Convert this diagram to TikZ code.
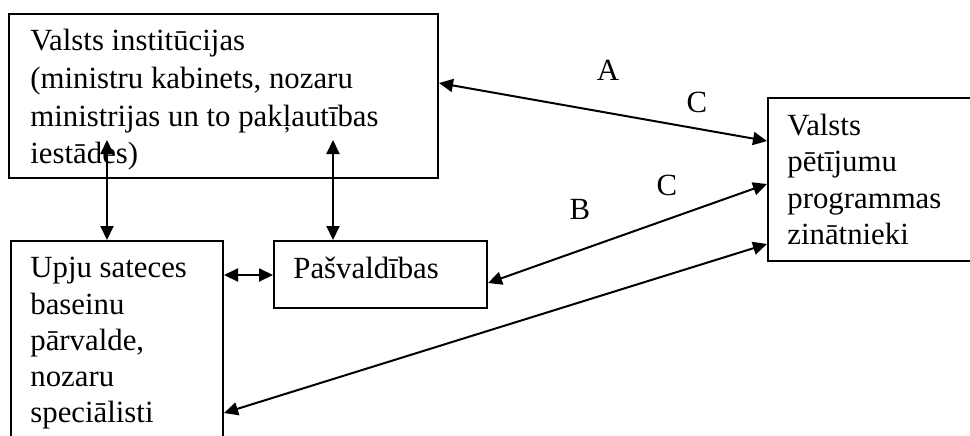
\documentclass[tikz,border=0pt]{standalone}
\usepackage{fontspec}
\setmainfont{Liberation Serif}
\usetikzlibrary{calc,arrows.meta}
\tikzset{
  orgBox/.style={
    draw=black,
    line width=1pt,
    rectangle,
    inner sep=0pt,
    anchor=north west
  },
  orgText/.style={
    inner sep=0pt,
    align=left,
    anchor=north west,
    font=\fontsize{15.4pt}{18.1pt}\selectfont
  },
  orgLabel/.style={
    inner sep=0pt,
    font=\fontsize{15.4pt}{18.1pt}\selectfont
  },
  orgLink/.style={
    line width=1pt,
    {Triangle[length=7pt,width=6.5pt]}-{Triangle[length=7pt,width=6.5pt]}
  }
}
\begin{document}
\begin{tikzpicture}[x=0.5pt,y=0.5pt]
  \useasboundingbox (0,0) rectangle (970,-435);
  \clip (0,0) rectangle (970,-435);

  % boxes
  \node (valsts) [orgBox, minimum width=214.5pt, minimum height=82pt] at (8,-13) {};
  \node (upju) [orgBox, minimum width=106pt, minimum height=100.5pt] at (10,-240) {};
  \node (pasv) [orgBox, minimum width=106.5pt, minimum height=33.5pt] at (273,-240) {};
  \node (zin) [orgBox, minimum width=107.5pt, minimum height=81.5pt] at (767,-97) {};

  % box texts
  \node (valstsText) [orgText, font=\fontsize{15.4pt}{18.85pt}\selectfont] at ($(valsts.north west)+(22,-16)$) {
    Valsts institūcijas\\
    (ministru kabinets, nozaru\\
    ministrijas un to pakļautības\\
    iestādes)
  };
  \node (upjuText) [orgText] at ($(upju.north west)+(20,-17)$) {
    Upju sateces\\
    baseinu\\
    pārvalde,\\
    nozaru\\
    speciālisti
  };
  \node (pasvText) [orgText] at ($(pasv.north west)+(20,-17)$) {Pašvaldības};
  \node (zinText) [orgText] at ($(zin.north west)+(20,-17)$) {
    Valsts\\
    pētījumu\\
    programmas\\
    zinātnieki
  };

  % labels on the links
  \node (lblA) [orgLabel] at (608,-70) {A};
  \node (lblCa) [orgLabel] at (697,-102) {C};
  \node (lblB) [orgLabel] at (580,-209) {B};
  \node (lblCb) [orgLabel] at (667,-185) {C};

  \coordinate (vUpju) at (107,-140);
  \coordinate (vPasv) at (333,-140);

  \draw [orgLink] ($(valsts.east)+(0,13)$) -- ($(zin.west)+(0,38.5)$);
  \draw [orgLink] ($(pasv.east)+(0,-8.5)$) -- ($(zin.west)+(0,-4.5)$);
  \draw [orgLink] ($(upju.east)+(0,-71.5)$) -- ($(zin.west)+(0,-64.5)$);
  \draw [orgLink] (vUpju) -- (vUpju |- upju.north);
  \draw [orgLink] (vPasv) -- (vPasv |- pasv.north);
  \draw [orgLink] (pasv.west |- 0,-275) -- (upju.east |- 0,-275);
\end{tikzpicture}
\end{document}
